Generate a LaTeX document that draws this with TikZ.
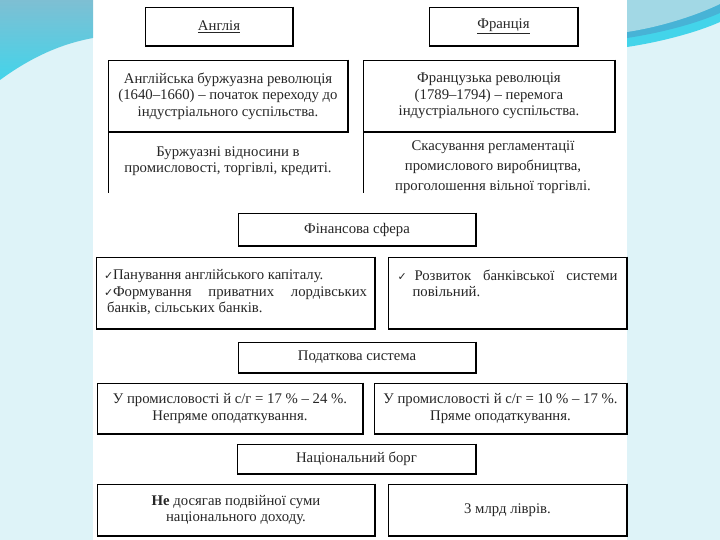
\documentclass[tikz,border=0pt]{standalone}
\usepackage{fontspec}
\setmainfont{Liberation Serif}
\newfontfamily\symfont{DejaVu Sans}
\definecolor{bgblue}{HTML}{DEF3F8}
\definecolor{swtop}{HTML}{7EBFD3}
\definecolor{swcyan}{HTML}{43D4EA}
\definecolor{swlight}{HTML}{A2D8E5}
\definecolor{swdark}{HTML}{47B3D6}
\newcommand\chk{{\symfont\fontsize{11}{11}\selectfont ✓}}
\newcommand\litem[3]{\hangindent=#2\hangafter=1\noindent\makebox[#1][l]{\chk}#3\par}
\begin{document}
\begin{tikzpicture}[x=1bp, y=-1bp, font=\fontsize{14.8}{16.5}\selectfont, line join=miter,
	box/.style={draw, line width=0.9bp, align=center, inner sep=2bp, text=black!85}]
	% background
	\fill[bgblue] (0,0) rectangle (720,540);
	\fill[white] (93,0) rectangle (627,540);
	\shade[top color=swtop, bottom color=swcyan] (0,0) -- (93,0) -- (93,38) .. controls (60,44) and (30,58) .. (0,80) -- cycle;
	\fill[swcyan] (627,0) -- (720,0) -- (720,22) .. controls (695,33) and (660,42) .. (627,47) -- cycle;
	\fill[swdark] (627,0) -- (720,0) -- (720,13) .. controls (695,24) and (660,33) .. (627,38) -- cycle;
	\fill[swlight] (627,0) -- (720,0) -- (720,4) .. controls (695,16) and (660,27) .. (627,32) -- cycle;
	% countries
	\node[box, minimum width=148, minimum height=39] (eng) at (219,26.5) {\underline{Англія}};
	\node[box, minimum width=149, minimum height=39] (fra) at (503.5,26.5) {\underline{Франція}};
	\node[box, minimum width=240, minimum height=72] (engRev) at (228,96) {Англійська буржуазна революція\\(1640–1660) – початок переходу до\\індустріального суспільства.};
	\node[box, minimum width=252, minimum height=72] (fraRev) at (489,96) {Французька революція\\(1789–1794) – перемога\\індустріального суспільства.};
	\node[align=center, text=black!85] (engRel) at (228,161) {Буржуазні відносини в\\промисловості, торгівлі, кредиті.};
	\node[align=center, text=black!85, font=\fontsize{14.8}{20}\selectfont] (fraRel) at (493,167) {Скасування регламентації\\промислового виробництва,\\проголошення вільної торгівлі.};
	\draw[line width=0.9bp] (engRev.south west) -- ++(0,61);
	\draw[line width=0.9bp] (fraRev.south west) -- ++(0,61);
	% finance
	\node[box, minimum width=238, minimum height=33] (fin) at (357,229.5) {Фінансова сфера};
	\node[box, minimum width=279, minimum height=72] (engBank) at (235.5,293) {\parbox[c][47bp][t]{263bp}{%
		\litem{9bp}{3bp}{Панування англійського капіталу.}
		\litem{9bp}{3bp}{Формування приватних лордівських\linebreak банків, сільських банків.}}};
	\node[box, minimum width=239, minimum height=72] (fraBank) at (507.5,293) {\parbox[c][47bp][t]{220bp}{%
		\litem{17bp}{15bp}{Розвиток банківської системи\linebreak повільний.}}};
	% taxes
	\node[box, minimum width=238, minimum height=31] (tax) at (357,357.5) {Податкова система};
	\node[box, minimum width=266, minimum height=51] (engTax) at (230,408.5) {У промисловості й с/г = 17 \% – 24 \%.\\Непряме оподаткування.};
	\node[box, minimum width=253, minimum height=51] (fraTax) at (500.5,408.5) {У промисловості й с/г = 10 \% – 17 \%.\\Пряме оподаткування.};
	% debt
	\node[box, minimum width=239, minimum height=30] (debt) at (356.5,459) {Національний борг};
	\node[box, minimum width=278, minimum height=52] (engDebt) at (236,510) {\textbf{Не} досягав подвійної суми\\національного доходу.};
	\node[box, minimum width=239, minimum height=52] (fraDebt) at (507.5,510) {3 млрд ліврів.};
	\foreach \n in {eng,fra,engRev,fraRev,fin,engBank,fraBank,tax,engTax,fraTax,debt,engDebt,fraDebt}
		\draw[line width=1.7bp] (\n.north east) -- (\n.south east) -- (\n.south west);
\end{tikzpicture}
\end{document}
